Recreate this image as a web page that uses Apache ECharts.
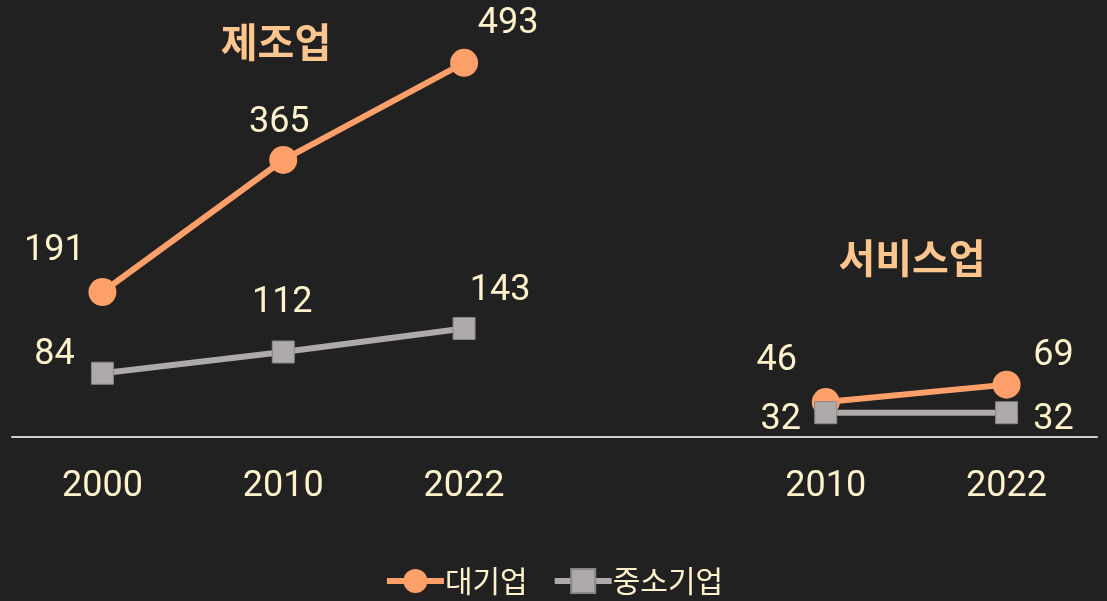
<!DOCTYPE html>
<html><head><meta charset="utf-8">
<script src="https://cdn.jsdelivr.net/npm/echarts@6/dist/echarts.min.js"></script>
<style>html,body{margin:0;padding:0;background:#212121;}#c{width:1107px;height:601px;}</style>
</head><body><div id="c"></div>
<script>
const categories = ['2000', '2010', '2022', '', '2010', '2022'];
const largeName = '대기업';
const smeName = '중소기업';
const largeValues = [191, 365, 493, null, 46, 69];
const smeValues = [84, 112, 143, null, 32, 32];
const groupTitles = ['제조업', '서비스업'];

const largeOffsets = [[-48,-41],[-4,-37],[44,-39],null,[-49,-41],[47,-29]];
const smeOffsets = [[-48,-18],[-1,-49],[36,-37],null,[-45,7],[47,7]];

const labelColor = '#FFF2CC';
const numFont = 'Roboto';
const krFont = '"Noto Sans CJK KR", sans-serif';

function mk(values, offsets) {
  return values.map((v, i) => v == null ? null : {
    value: v,
    label: { offset: offsets[i] }
  });
}

const chart = echarts.init(document.getElementById('c'));
chart.setOption({
  backgroundColor: '#212121',
  animation: false,
  grid: { left: 12, right: 10, top: 57.5, bottom: 164 },
  xAxis: {
    type: 'category',
    data: categories,
    boundaryGap: true,
    axisLine: { lineStyle: { color: '#D0CECE', width: 2 } },
    axisTick: { show: false },
    axisLabel: { color: labelColor, fontSize: 36, fontFamily: numFont, margin: 32 }
  },
  yAxis: { type: 'value', min: 0, max: 500, show: false, splitLine: { show: false } },
  legend: {
    bottom: 0, left: 'center',
    itemWidth: 57, itemHeight: 30, itemGap: 24,
    lineStyle: { width: 6 },
    textStyle: { color: labelColor, fontSize: 30, fontFamily: krFont, padding: [0, 0, 0, -4] },
    data: [largeName, smeName]
  },
  graphic: [
    { type: 'text', x: 276, y: 42, style: { text: groupTitles[0], fill: '#FFC58F', font: 'bold 40px "Noto Sans CJK KR"', textAlign: 'center', textVerticalAlign: 'middle' } },
    { type: 'text', x: 912, y: 258, style: { text: groupTitles[1], fill: '#FFC58F', font: 'bold 40px "Noto Sans CJK KR"', textAlign: 'center', textVerticalAlign: 'middle' } }
  ],
  series: [
    {
      name: largeName, type: 'line', data: mk(largeValues, largeOffsets),
      connectNulls: false,
      symbol: 'circle', symbolSize: 28,
      lineStyle: { color: '#FF9F6A', width: 6 },
      itemStyle: { color: '#FF9F6A' },
      label: { show: true, position: 'inside', color: labelColor, fontSize: 36, fontFamily: numFont },
      z: 3
    },
    {
      name: smeName, type: 'line', data: mk(smeValues, smeOffsets),
      connectNulls: false,
      symbol: 'rect', symbolSize: 22,
      lineStyle: { color: '#AEAAAA', width: 6 },
      itemStyle: { color: '#AEAAAA', borderColor: '#8a8686', borderWidth: 1 },
      label: { show: true, position: 'inside', color: labelColor, fontSize: 36, fontFamily: numFont },
      z: 4
    }
  ]
});
</script></body></html>
